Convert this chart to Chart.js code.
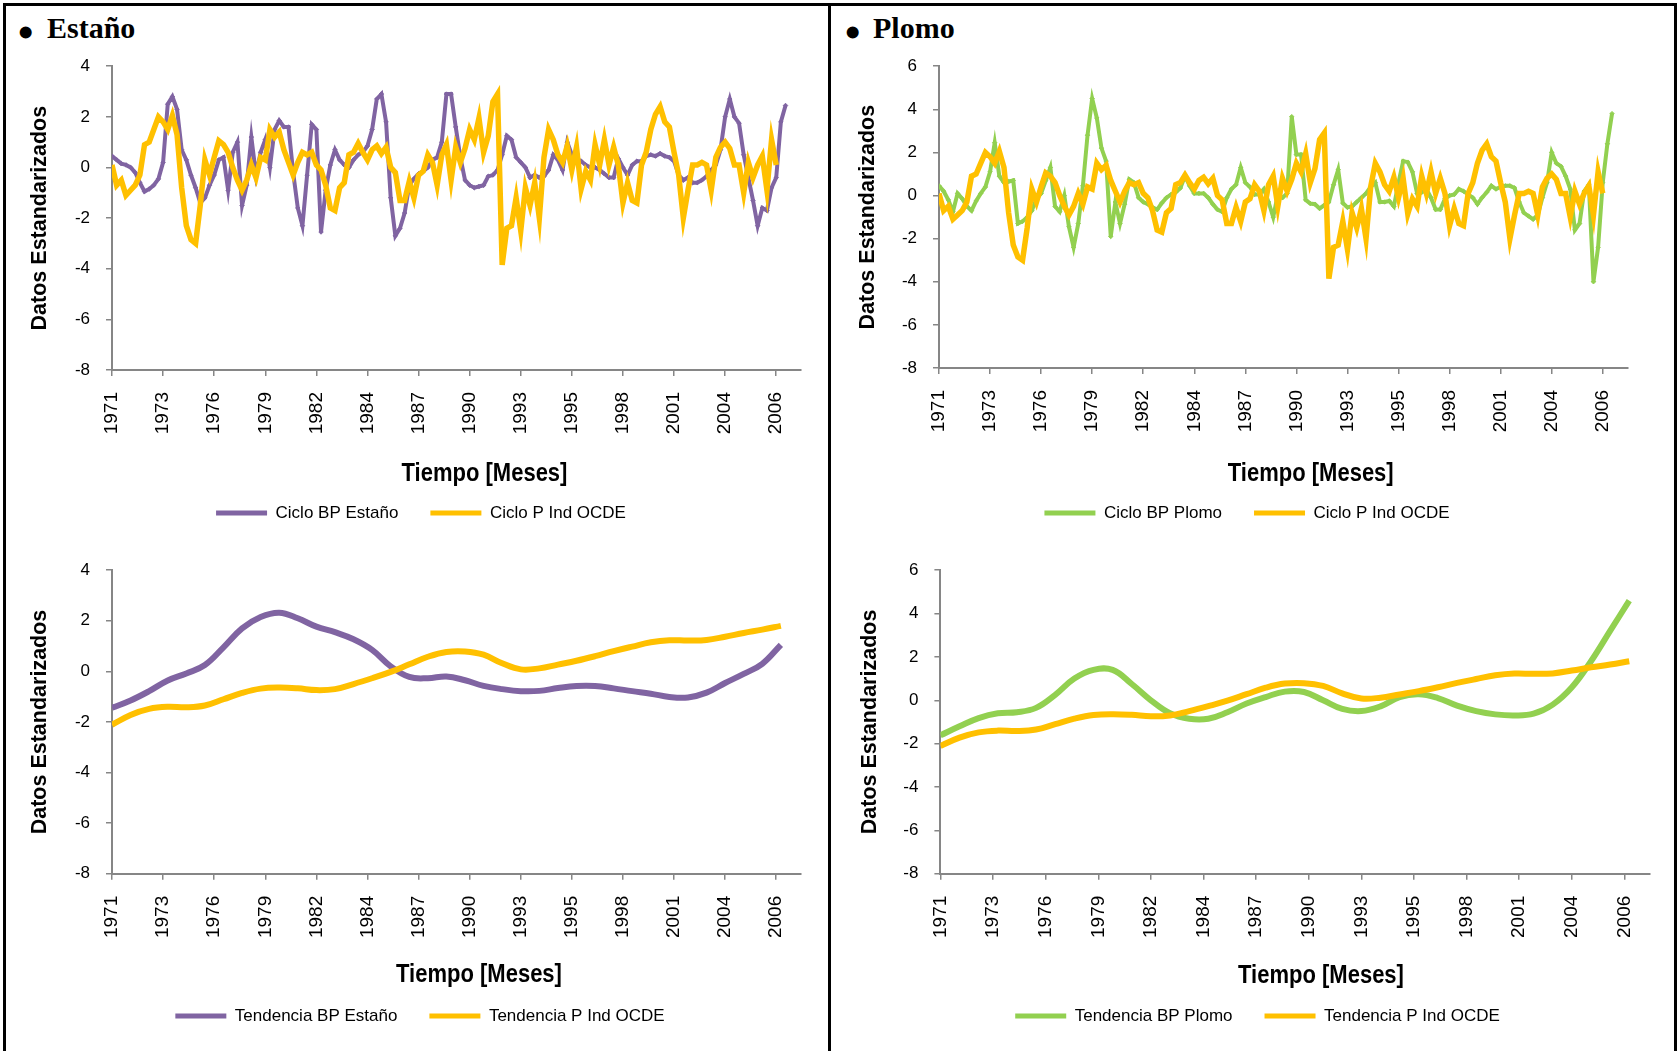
<!DOCTYPE html>
<html>
<head>
<meta charset="utf-8">
<script src="https://cdn.jsdelivr.net/npm/chart.js@4.4.1/dist/chart.umd.min.js"></script>
<style>
  html, body { margin: 0; padding: 0; background: #fff; }
  body { width: 1679px; height: 1051px; position: relative; overflow: hidden; }
  #frame { position: absolute; left: 3px; top: 3px; width: 1668px; height: 1100px; border: 3px solid #000; }
  #divider { position: absolute; left: 828px; top: 3px; width: 3px; height: 1100px; background: #000; }
  .panel-title { position: absolute; font: bold 30px "Liberation Serif", "Times New Roman", serif; line-height: 30px; white-space: nowrap; }
  .bullet { font-size: 44px; }
  canvas { position: absolute; }
</style>
</head>
<body>
<div id="frame"></div>
<div id="divider"></div>
<div class="panel-title bullet" style="left:18px;top:18px">•</div>
<div class="panel-title" style="left:47px;top:13px">Estaño</div>
<div class="panel-title bullet" style="left:845px;top:18px">•</div>
<div class="panel-title" style="left:873px;top:13px">Plomo</div>

<canvas id="cicloEstanoChart" width="826" height="498" style="left:0;top:40px"></canvas>
<canvas id="cicloPlomoChart" width="845" height="498" style="left:834px;top:40px"></canvas>
<canvas id="tendEstanoChart" width="826" height="497" style="left:0;top:544px"></canvas>
<canvas id="tendPlomoChart" width="845" height="497" style="left:834px;top:544px"></canvas>

<script>
// monthly series, Jan 1971 onwards; cycles sampled every 3 months, trends every 12
const cycleStep = 3;
const trendStep = 12;
const tickStep = 33;
const lastMonth = 445;
const tickYears = ['1971', '1973', '1976', '1979', '1982', '1984', '1987',
                   '1990', '1993', '1995', '1998', '2001', '2004', '2006'];

const cicloEstano = [
  0.45, 0.3, 0.15, 0.1, 0.0, -0.2, -0.6, -0.95, -0.85, -0.7,
  -0.45, 0.2, 2.5, 2.8, 2.3, 0.7, 0.3, -0.3, -0.8, -1.4,
  -1.2, -0.7, -0.3, 0.3, 0.4, -0.9, 0.6, 1.0, -1.5, -0.7,
  1.2, -0.3, 0.6, 1.1, 0.0, 1.5, 1.85, 1.6, 1.6, -0.2,
  -1.6, -2.3, -0.3, 1.7, 1.5, -2.55, -0.9, 0.1, 0.7, 0.3,
  0.1, 0.0, 0.3, 0.5, 0.6, 0.85, 1.5, 2.7, 2.9, 1.8,
  -1.2, -2.7, -2.4, -1.8, -0.7, -0.45, -0.25, -0.15, 0.0, 0.3,
  0.4, 1.0, 2.9, 2.9, 1.6, 0.4, -0.5,
  -0.7, -0.8, -0.75, -0.7, -0.35, -0.3, -0.1, 0.5, 1.25, 1.1,
  0.4, 0.2, 0.0, -0.4, -0.3, -0.4, -0.35, -0.1, 0.5, 0.3,
  -0.1, 1.0, 0.5, 0.35, 0.25, 0.1, 0.0, 0.0, -0.1, -0.25,
  -0.4, -0.4, 0.35, 0.0, -0.3, 0.1, 0.25, 0.25, 0.45, 0.5,
  0.45, 0.55, 0.45, 0.4, 0.25, -0.3, -0.5, -0.4, -0.6, -0.6,
  -0.5, -0.35, -0.1, 0.1, 0.7, 2.0, 2.7, 2.0, 1.75, 0.5,
  -0.4, -1.3, -2.3, -1.6, -1.7, -0.8, -0.4, 1.8, 2.45
];

const cicloPlomo = [
  0.45, 0.2, -0.2, -0.75, 0.1, -0.15, -0.5, -0.7, -0.25, 0.1,
  0.4, 1.1, 2.45, 0.9, 0.6, 0.65, 0.7, -1.3, -1.2, -1.0,
  -0.7, -0.15, 0.1, 0.7, 1.3, -0.5, -0.75, 0.0, -1.45, -2.4,
  -1.3, 0.45, 2.8, 4.5, 3.6, 2.2, 1.6, -1.9, -0.3, -1.3,
  -0.4, 0.75, 0.6, -0.1, -0.3, -0.4, -0.55, -0.65, -0.35, -0.1,
  0.05, 0.15, 0.35, 0.9, 0.45, 0.1, 0.1, 0.1, -0.1, -0.4,
  -0.65, -0.75, -0.1, 0.3, 0.5, 1.3, 0.6, 0.4, 0.05, 0.05,
  0.3, -0.3, -1.0, 0.05, -0.1, 0.1, 3.66, 1.9, 1.9, -0.2,
  -0.37, -0.4, -0.6, -0.45, -0.3, 0.5, 1.2, -0.35, -0.55, -0.5,
  -0.3, -0.1, 0.1, 0.4, 0.6, -0.3, -0.3, -0.25, -0.5, 0.6,
  1.6, 1.55, 1.1, 0.1, 0.15, 0.3, -0.1, -0.65, -0.65, -0.15,
  0.0, 0.05, 0.3, 0.2, 0.05, -0.1, -0.4, -0.1, 0.15, 0.45,
  0.3, 0.4, 0.45, 0.45, 0.35, -0.3, -0.8, -0.95, -1.1, -0.9,
  -0.1, 0.6, 2.0, 1.5, 1.35, 0.9, 0.3, -1.6, -1.3, 0.2,
  0.5, -4.0, -2.4, 0.6, 2.4, 3.8
];

const cicloOcde = [
  0.1, -0.7, -0.5, -1.1, -0.9, -0.7, -0.3, 0.9, 1.0, 1.5,
  2.0, 1.8, 1.5, 2.05, 1.3, -0.8, -2.3, -2.85, -3.0, -1.5,
  0.3, -0.3, 0.4, 1.05, 0.9, 0.6, 0.0, -0.5, -0.9, -0.5,
  0.1, -0.4, 0.4, 0.3, 1.5, 1.2, 1.4, 0.7, 0.2, -0.3,
  0.2, 0.6, 0.5, 0.6, 0.1, -0.1, -0.7, -1.6, -1.7, -0.8,
  -0.6, 0.5, 0.6, 0.95, 0.6, 0.3, 0.7, 0.85, 0.55, 0.8,
  0.0, -0.2, -1.3, -1.3, -0.55, -1.2, -0.3, -0.15, 0.5, 0.2,
  -0.7, 0.5, 0.9, -0.5, 0.8, 0.2, 0.75, 1.5, 1.1, 1.95,
  0.6, 1.25, 2.6, 2.9, -3.85, -2.4, -2.3, -1.2, -2.5, -0.8,
  -1.5, -0.6, -2.0, 0.4, 1.5, 1.1, 0.5, 0.2, 0.85, -0.1,
  0.8, -0.85, -0.15, -0.5, 0.9, 0.1, 1.1, 0.1, 0.8, 0.1,
  -1.4, -0.6, -1.3, -1.4, 0.1, 0.6, 1.5, 2.1, 2.4, 1.8,
  1.6, 0.6, -0.3, -2.0, -0.9, 0.1, 0.1, 0.2, 0.1, -0.9,
  0.4, 0.8, 1.0, 0.75, 0.1, 0.1, -1.0, 0.2, -0.4, 0.1,
  0.45, -0.9, 1.1, 0.1
];

const tendEstano = [
  -1.44, -1.15, -0.78, -0.36, -0.08, 0.25, 0.95, 1.7, 2.15, 2.32,
  2.1, 1.77, 1.55, 1.27, 0.85, 0.2, -0.22, -0.27, -0.2, -0.35,
  -0.57, -0.7, -0.78, -0.77, -0.66, -0.58, -0.58, -0.67, -0.78, -0.88,
  -1.01, -1.03, -0.84, -0.46, -0.1, 0.3, 1.05
];

const tendPlomo = [
  -1.62, -1.2, -0.82, -0.6, -0.55, -0.35, 0.25, 1.0, 1.4, 1.4,
  0.75, 0.0, -0.6, -0.85, -0.85, -0.55, -0.15, 0.15, 0.4, 0.38,
  0.0, -0.4, -0.5, -0.28, 0.15, 0.28, 0.1, -0.25, -0.5, -0.65,
  -0.7, -0.62, -0.2, 0.6, 1.8, 3.2, 4.6
];

const tendOcde = [
  -2.11, -1.72, -1.48, -1.4, -1.42, -1.35, -1.1, -0.85, -0.68, -0.64,
  -0.67, -0.74, -0.7, -0.5, -0.27, -0.02, 0.28, 0.58, 0.77, 0.79,
  0.66, 0.32, 0.08, 0.12, 0.27, 0.42, 0.6, 0.8, 0.98, 1.15,
  1.23, 1.22, 1.24, 1.37, 1.52, 1.65, 1.8
];

const PURPLE = '#8064A2';
const GREEN = '#92D050';
const GOLD = '#FFC000';
const AXIS = '#868686';
const sans = '"Liberation Sans", Arial, sans-serif';

const toPoints = (values, step) => values.map((v, i) => ({ x: i * step, y: v }));

// axis title under the dates, squeezed a little and set right of the plot centre
const xTitle = {
  id: 'xTitle',
  afterDraw(chart, args, opts) {
    const { ctx, chartArea } = chart;
    ctx.save();
    ctx.translate((chartArea.left + chartArea.right) / 2 + opts.dx, chartArea.bottom + opts.dy);
    ctx.scale(0.88, 1);
    ctx.font = 'bold 25px ' + sans;
    ctx.fillStyle = '#000';
    ctx.textAlign = 'center';
    ctx.textBaseline = 'middle';
    ctx.fillText(opts.text, 0, 0);
    ctx.restore();
  }
};

function seriesStyle(color, width, withMarkers, smooth) {
  return {
    borderColor: color,
    backgroundColor: color,
    borderWidth: width,
    pointRadius: withMarkers ? 2.2 : 0,
    pointStyle: 'rectRot',
    pointBorderWidth: 1,
    pointBackgroundColor: color,
    pointBorderColor: color,
    tension: smooth ? 0.4 : 0
  };
}

function makeChart(id, o) {
  return new Chart(document.getElementById(id), {
    type: 'line',
    data: {
      datasets: [
        Object.assign({ label: o.labels[0], data: o.main, order: 1 }, seriesStyle(o.color, o.smooth ? 6 : 4, !o.smooth, o.smooth)),
        Object.assign({ label: o.labels[1], data: o.ocde, order: 0 }, seriesStyle(GOLD, o.smooth ? 6 : 5.5, false, o.smooth))
      ]
    },
    options: {
      responsive: false,
      animation: false,
      layout: { padding: o.pad },
      scales: {
        x: {
          type: 'linear',
          min: 0,
          max: lastMonth,
          ticks: {
            stepSize: tickStep,
            includeBounds: false,
            autoSkip: false,
            minRotation: 90,
            maxRotation: 90,
            padding: 16,
            color: '#000',
            font: { family: sans, size: 19 },
            callback: (value, index) => tickYears[index]
          },
          grid: { drawOnChartArea: false, tickLength: 6, color: AXIS, lineWidth: 1.5 },
          border: { color: AXIS, width: 2 },
          afterFit: s => { s.height = o.xHeight; }
        },
        y: {
          min: -8,
          max: o.yMax,
          ticks: {
            stepSize: 2,
            padding: 16,
            color: '#000',
            font: { family: sans, size: 17 }
          },
          grid: { drawOnChartArea: false, tickLength: 6, color: AXIS, lineWidth: 1.5 },
          border: { color: AXIS, width: 2 },
          title: {
            display: true,
            text: 'Datos Estandarizados',
            color: '#000',
            font: { family: sans, weight: 'bold', size: 21.5 },
            padding: { top: o.yTitlePad, bottom: 0 }
          },
          afterFit: s => { s.width = o.yWidth; }
        }
      },
      plugins: {
        tooltip: { enabled: false },
        xTitle: { text: 'Tiempo [Meses]', dx: o.titleDx, dy: o.titleDy },
        legend: {
          position: 'bottom',
          labels: {
            boxWidth: 51,
            boxHeight: 5,
            padding: 32,
            color: '#000',
            font: { family: sans, size: 17 },
            generateLabels: chart => Chart.defaults.plugins.legend.labels.generateLabels(chart)
              .sort((a, b) => a.datasetIndex - b.datasetIndex)
              .map(item => Object.assign(item, { lineWidth: 0, fillStyle: item.strokeStyle }))
          }
        }
      }
    },
    plugins: [xTitle]
  });
}

makeChart('cicloEstanoChart', {
  labels: ['Ciclo BP Estaño', 'Ciclo P Ind OCDE'],
  main: toPoints(cicloEstano, cycleStep),
  ocde: toPoints(cicloOcde, cycleStep),
  color: PURPLE, smooth: false, yMax: 4,
  pad: { left: 41, right: 25, top: 16, bottom: 6.5 },
  yWidth: 71, xHeight: 102.5, yTitlePad: -13.9, titleDx: 28, titleDy: 104
});

makeChart('cicloPlomoChart', {
  labels: ['Ciclo BP Plomo', 'Ciclo P Ind OCDE'],
  main: toPoints(cicloPlomo, cycleStep),
  ocde: toPoints(cicloOcde, cycleStep),
  color: GREEN, smooth: false, yMax: 6,
  pad: { left: 32.5, right: 51.5, top: 16, bottom: 6.5 },
  yWidth: 72.5, xHeight: 104.5, yTitlePad: -11.4, titleDx: 27.5, titleDy: 106
});

makeChart('tendEstanoChart', {
  labels: ['Tendencia BP Estaño', 'Tendencia P Ind OCDE'],
  main: toPoints(tendEstano, trendStep),
  ocde: toPoints(tendOcde, trendStep),
  color: PURPLE, smooth: true, yMax: 4,
  pad: { left: 39, right: 25, top: 16, bottom: 6.5 },
  yWidth: 73, xHeight: 101.7, yTitlePad: -11.9, titleDx: 22.5, titleDy: 101.7
});

makeChart('tendPlomoChart', {
  labels: ['Tendencia BP Plomo', 'Tendencia P Ind OCDE'],
  main: toPoints(tendPlomo, trendStep),
  ocde: toPoints(tendOcde, trendStep),
  color: GREEN, smooth: true, yMax: 6,
  pad: { left: 31, right: 29, top: 16, bottom: 6.5 },
  yWidth: 75.4, xHeight: 101.8, yTitlePad: -7.4, titleDx: 25.8, titleDy: 102
});
</script>
</body>
</html>
